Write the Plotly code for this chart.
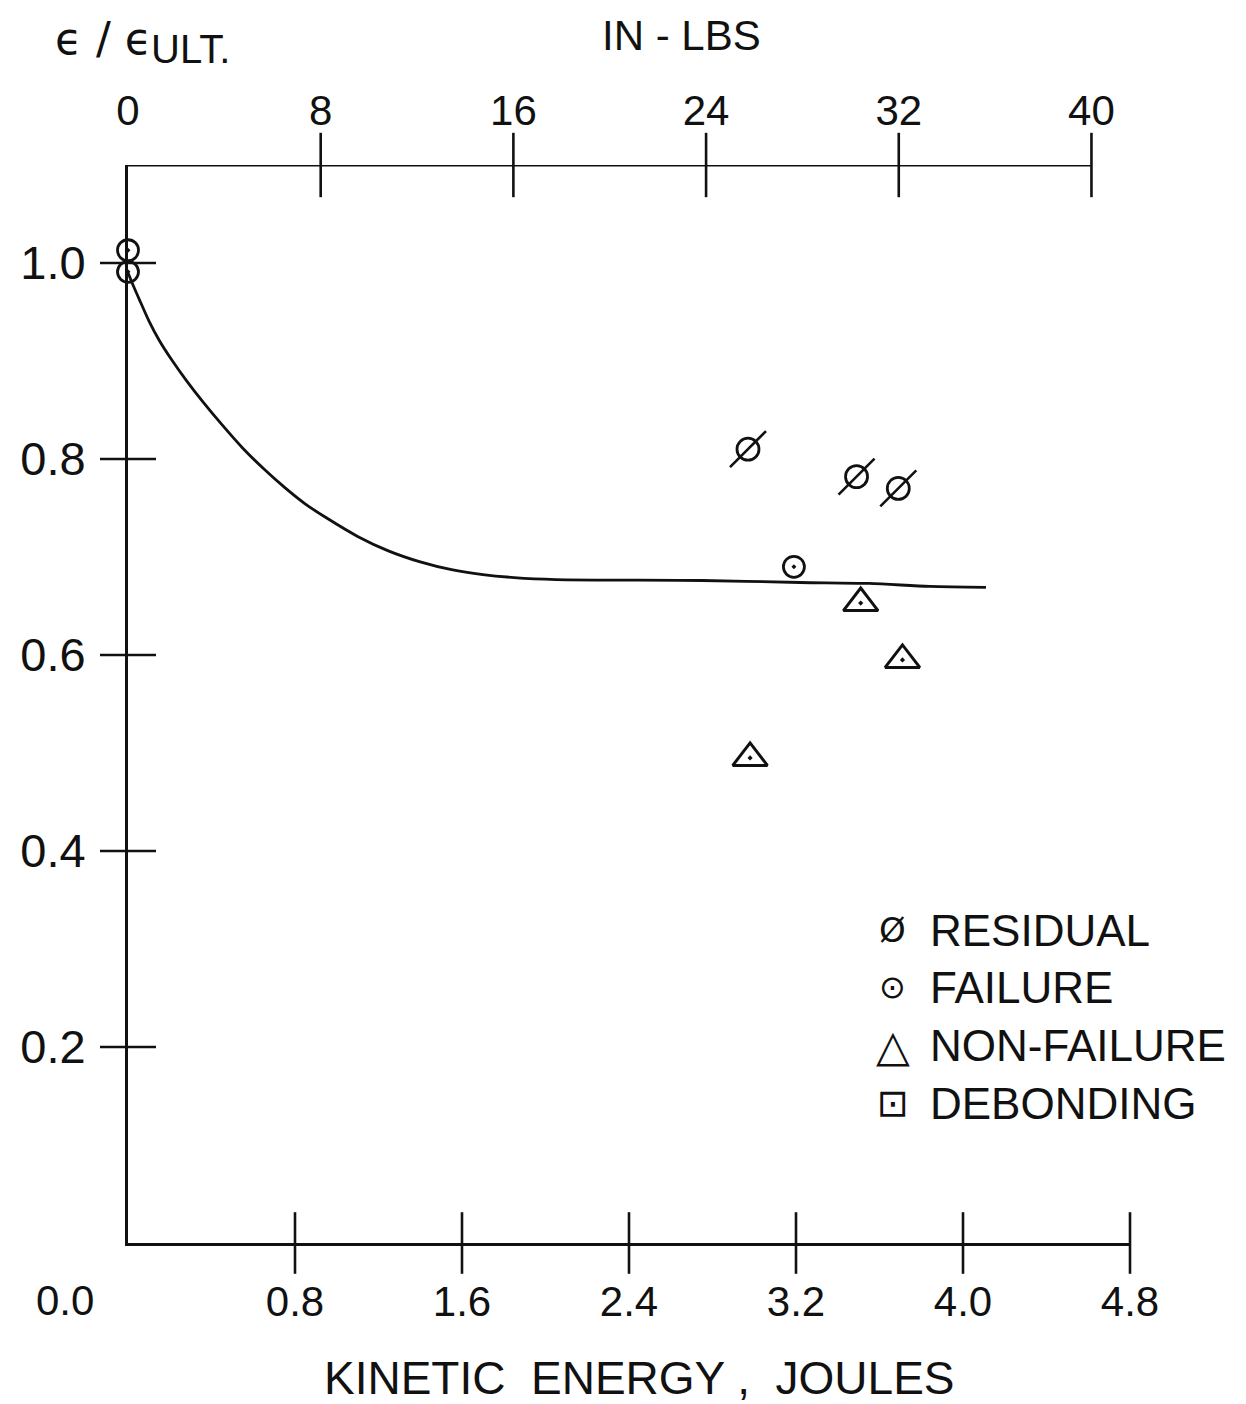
import plotly.graph_objects as go

# ---------------- data ----------------
energy_curve = [0.0, 0.025, 0.06, 0.10, 0.15, 0.21, 0.28, 0.36, 0.45, 0.55,
                0.65, 0.75, 0.85, 0.95, 1.10, 1.25, 1.40, 1.55, 1.70, 1.85,
                2.05, 2.75, 3.22, 3.55, 3.84, 4.11]
strain_curve = [0.990, 0.977, 0.960, 0.941, 0.921, 0.901, 0.880, 0.858, 0.835, 0.811,
                0.790, 0.771, 0.754, 0.740, 0.721, 0.706, 0.695, 0.687, 0.682, 0.679,
                0.677, 0.676, 0.674, 0.673, 0.670, 0.669]

energy_residual = [2.97, 3.49, 3.69]
strain_residual = [0.810, 0.782, 0.770]

energy_failure = [0.0, 0.0, 3.19]
strain_failure = [1.013, 0.991, 0.690]

energy_nonfailure = [2.98, 3.51, 3.71]
strain_nonfailure = [0.495, 0.653, 0.595]

joule_ticks = [0.8, 1.6, 2.4, 3.2, 4.0, 4.8]
joule_labels = ["0.8", "1.6", "2.4", "3.2", "4.0", "4.8"]
joule_origin_label = "0.0"
inlb_ticks = [0, 8, 16, 24, 32, 40]
inlb_labels = ["0", "8", "16", "24", "32", "40"]
strain_ticks = [0.2, 0.4, 0.6, 0.8, 1.0]
strain_labels = ["0.2", "0.4", "0.6", "0.8", "1.0"]

legend_symbols = ["Ø", "⊙", "△", "⊡"]
legend_texts = ["RESIDUAL", "FAILURE", "NON-FAILURE", "DEBONDING"]

# ---------------- styling ----------------
INK = "#111111"
FONT = "Liberation Sans"
X_MAX = 4.8
Y_MAX = 1.1
INLB_MAX = 41.6

fig = go.Figure()

# curve
fig.add_trace(go.Scatter(x=energy_curve, y=strain_curve, mode="lines",
                         line=dict(color=INK, width=2.8, shape="spline", smoothing=0.8),
                         showlegend=False, hoverinfo="skip"))

# data points
fig.add_trace(go.Scatter(x=energy_residual, y=strain_residual, mode="markers",
                         marker=dict(symbol="circle-open", size=22, color=INK,
                                     line=dict(width=2.8, color=INK)),
                         name="RESIDUAL", showlegend=False, cliponaxis=False))
fig.add_trace(go.Scatter(x=energy_residual, y=strain_residual, mode="markers",
                         marker=dict(symbol="line-ne", size=36, color=INK,
                                     line=dict(width=2.6, color=INK)),
                         showlegend=False, hoverinfo="skip", cliponaxis=False))
fig.add_trace(go.Scatter(x=energy_failure, y=strain_failure, mode="markers",
                         marker=dict(symbol="circle-open-dot", size=21, color=INK,
                                     line=dict(width=2.8, color=INK)),
                         name="FAILURE", showlegend=False, cliponaxis=False))
fig.add_trace(go.Scatter(x=energy_nonfailure, y=strain_nonfailure, mode="markers",
                         marker=dict(symbol="triangle-up-open-dot", size=30, color=INK,
                                     line=dict(width=3, color=INK)),
                         name="NON-FAILURE", showlegend=False, cliponaxis=False))

# crossing tick marks
fig.add_trace(go.Scatter(x=joule_ticks, y=[0] * len(joule_ticks), mode="markers",
                         marker=dict(symbol="line-ns", size=44, line=dict(width=2.6, color=INK)),
                         showlegend=False, hoverinfo="skip", cliponaxis=False))
fig.add_trace(go.Scatter(x=inlb_ticks[1:], y=[Y_MAX] * (len(inlb_ticks) - 1), mode="markers",
                         xaxis="x2",
                         marker=dict(symbol="line-ns", size=46, line=dict(width=2.6, color=INK)),
                         showlegend=False, hoverinfo="skip", cliponaxis=False))
fig.add_trace(go.Scatter(x=[0] * len(strain_ticks), y=strain_ticks, mode="markers",
                         marker=dict(symbol="line-ew", size=40, line=dict(width=2.6, color=INK)),
                         showlegend=False, hoverinfo="skip", cliponaxis=False))

# top axis line (stops at 40 in-lbs)
fig.add_shape(type="line", xref="x2", yref="y", x0=0, x1=inlb_ticks[-1], y0=Y_MAX, y1=Y_MAX,
              line=dict(color=INK, width=2.8))

# page body has an 8px margin: offset the margins so the plot area lands where intended
fig.update_layout(
    width=1238, height=1396,
    margin=dict(l=112, r=116, t=157, b=161),
    paper_bgcolor="white", plot_bgcolor="white",
    font=dict(family=FONT, color=INK, size=42),
    xaxis=dict(range=[0, X_MAX], showgrid=False, zeroline=False,
               showline=True, linecolor=INK, linewidth=2.8,
               tickmode="array", tickvals=joule_ticks, ticktext=joule_labels,
               ticks="", ticklabelstandoff=20, tickfont=dict(size=42)),
    xaxis2=dict(range=[0, INLB_MAX], overlaying="x", side="top", showgrid=False,
                zeroline=False, showline=False,
                tickmode="array", tickvals=inlb_ticks, ticktext=inlb_labels,
                ticks="", ticklabelstandoff=31, tickfont=dict(size=42)),
    yaxis=dict(range=[0, Y_MAX], showgrid=False, zeroline=False,
               showline=True, linecolor=INK, linewidth=2.8,
               tickmode="array", tickvals=strain_ticks, ticktext=strain_labels,
               ticks="", ticklabelstandoff=30, tickfont=dict(size=47)),
    showlegend=False,
)


def px_x(sx):
    return (sx - 120) / 1010.0


def px_y(sy):
    return (1243 - sy) / 1078.0


annotations = [
    dict(text=joule_origin_label, x=px_x(57), y=px_y(1300), xref="paper", yref="paper",
         xanchor="center", yanchor="middle", showarrow=False, font=dict(size=42)),
    dict(text="ϵ / ϵ", x=px_x(44), y=px_y(38), xref="paper", yref="paper",
         xanchor="left", yanchor="middle", showarrow=False,
         font=dict(size=44, family="DejaVu Sans")),
    dict(text="ULT.", x=px_x(141), y=px_y(49), xref="paper", yref="paper",
         xanchor="left", yanchor="middle", showarrow=False, font=dict(size=40)),
    dict(text="IN - LBS", x=px_x(678), y=px_y(35), xref="paper", yref="paper",
         xanchor="center", yanchor="middle", showarrow=False, font=dict(size=42)),
    dict(text="KINETIC&nbsp; ENERGY ,&nbsp; JOULES", x=px_x(636), y=px_y(1378),
         xref="paper", yref="paper", xanchor="center", yanchor="middle",
         showarrow=False, font=dict(size=46)),
]

legend_rows_y = [930, 987, 1045, 1103]
legend_sym_sizes = [34, 32, 44, 38]
for sym, txt, sy, ss in zip(legend_symbols, legend_texts, legend_rows_y, legend_sym_sizes):
    annotations.append(dict(text=sym, x=px_x(891), y=px_y(sy), xref="paper", yref="paper",
                            xanchor="center", yanchor="middle", showarrow=False,
                            font=dict(size=ss, family="DejaVu Sans")))
    annotations.append(dict(text=txt, x=px_x(926), y=px_y(sy), xref="paper", yref="paper",
                            xanchor="left", yanchor="middle", showarrow=False,
                            font=dict(size=44)))

fig.update_layout(annotations=annotations)

fig.write_html("out.html")
